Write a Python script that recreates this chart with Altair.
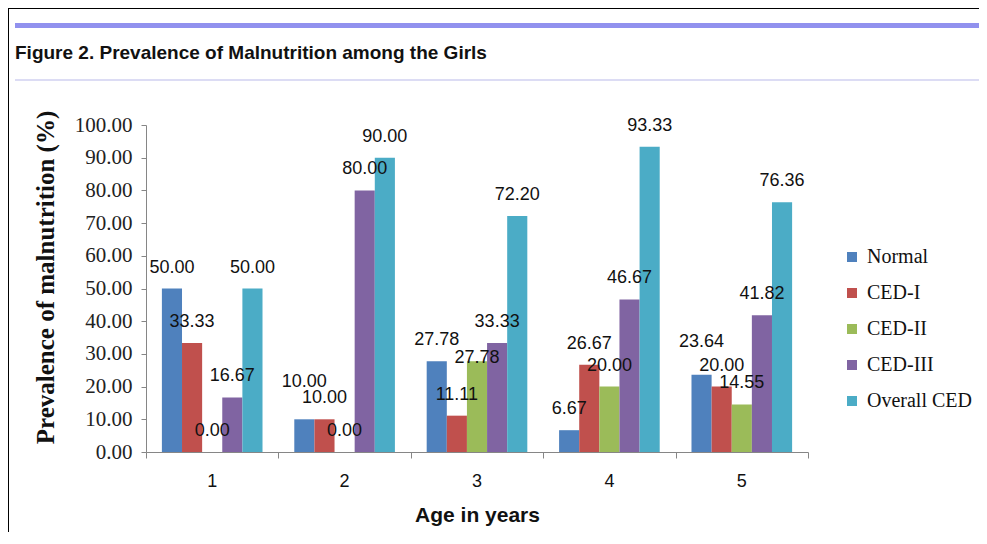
import altair as alt
import pandas as pd

# ---- data ----
ages = ["1", "2", "3", "4", "5"]
series = ["Normal", "CED-I", "CED-II", "CED-III", "Overall CED"]
normal = [50.00, 10.00, 27.78, 6.67, 23.64]
ced1 = [33.33, 10.00, 11.11, 26.67, 20.00]
ced2 = [0.00, 0.00, 27.78, 20.00, 14.55]
ced3 = [16.67, 80.00, 33.33, 46.67, 41.82]
overall = [50.00, 90.00, 72.20, 93.33, 76.36]
colors = ["#4F81BD", "#C0504D", "#9BBB59", "#8064A2", "#4BACC6"]
y_ticks = [0, 10, 20, 30, 40, 50, 60, 70, 80, 90, 100]
fig_title = "Figure 2. Prevalence of Malnutrition among the Girls"
y_title = "Prevalence of malnutrition (%)"
x_title = "Age in years"

# label nudges (in axis units) as in the reference, where a few labels were moved
label_nudge = {("2", "Normal"): 5.0, ("5", "Normal"): 3.7, ("3", "CED-II"): -5.5}

rows = []
for name, vals in zip(series, [normal, ced1, ced2, ced3, overall]):
    for a, v in zip(ages, vals):
        rows.append({"age": a, "group": name, "value": v, "label": f"{v:.2f}",
                     "label_y": v + label_nudge.get((a, name), 0.0)})
df = pd.DataFrame(rows)
bounds = pd.DataFrame({"b": list(range(len(ages) + 1))})
one = pd.DataFrame({"k": [0]})

W, H = 662, 327
SANS = "Liberation Sans"
SERIF = "Liberation Serif"
AXC = "#868686"

xscale = alt.Scale(domain=ages, paddingInner=0.24, paddingOuter=0.12)
offscale = alt.Scale(domain=series, paddingInner=0, paddingOuter=0)
yscale = alt.Scale(domain=[0, 100], nice=False)
y_axis = alt.Axis(values=y_ticks, format=".2f", grid=False, tickSize=5,
                  tickColor=AXC, domainColor=AXC, labelFont=SERIF,
                  labelFontSize=21, labelColor="#222", labelPadding=9,
                  title=y_title, titleFont=SERIF, titleFontSize=25,
                  titleFontWeight="bold", titleColor="#111",
                  titlePadding=16, titleY=152)

bars = alt.Chart(df).mark_bar().encode(
    x=alt.X("age:N", scale=xscale, sort=ages,
            axis=alt.Axis(title=x_title, ticks=False, labelAngle=0,
                          labelFont=SANS, labelFontSize=18, labelColor="#111",
                          labelPadding=20, domainColor=AXC, domainWidth=1,
                          titleFont=SANS, titleFontSize=21, titleFontWeight="bold",
                          titleColor="#111", titlePadding=14)),
    xOffset=alt.XOffset("group:N", scale=offscale, sort=series),
    y=alt.Y("value:Q", scale=yscale, axis=y_axis),
    color=alt.Color("group:N", scale=alt.Scale(domain=series, range=colors),
                    sort=series,
                    legend=alt.Legend(orient="none", legendX=696, legendY=122,
                                      title=None, symbolType="square",
                                      symbolSize=100, symbolStrokeWidth=0,
                                      labelFont=SERIF, labelFontSize=20,
                                      labelColor="#111", rowPadding=16,
                                      labelOffset=5)),
)

labels = alt.Chart(df).mark_text(
    font=SANS, fontSize=18, color="#111", baseline="middle", align="center", dy=-21
).encode(
    x=alt.X("age:N", scale=xscale, sort=ages, axis=None),
    xOffset=alt.XOffset("group:N", scale=offscale, sort=series),
    y=alt.Y("label_y:Q", scale=yscale, axis=y_axis),
    text="label:N",
)

bticks = alt.Chart(bounds).mark_point(opacity=0).encode(
    x=alt.X("b:Q", scale=alt.Scale(domain=[0, len(ages)], nice=False, zero=False),
            axis=alt.Axis(orient="bottom", values=list(range(len(ages) + 1)),
                          labels=False, domain=False, title=None, grid=False,
                          tickSize=6, tickColor=AXC)),
    y=alt.value(H),
)

border_top = alt.Chart(one).mark_rule(color="#000", strokeWidth=1).encode(
    x=alt.value(-138), x2=alt.value(840), y=alt.value(-116.5))
border_left = alt.Chart(one).mark_rule(color="#000", strokeWidth=1).encode(
    x=alt.value(-137.5), y=alt.value(-117), y2=alt.value(420))
purple = alt.Chart(one).mark_rule(color="#9191EE", strokeWidth=5).encode(
    x=alt.value(-131), x2=alt.value(840), y=alt.value(-99.5))
thin = alt.Chart(one).mark_rule(color="#DCDCF4", strokeWidth=2).encode(
    x=alt.value(-131), x2=alt.value(840), y=alt.value(-45))
title = alt.Chart(one).mark_text(
    font=SANS, fontSize=19, fontWeight="bold", color="#111", align="left",
    baseline="middle").encode(x=alt.value(-131), y=alt.value(-72),
                              text=alt.value(fig_title))

chart = alt.layer(
    border_top, border_left, purple, thin, title, bars, labels, bticks
).resolve_scale(x="independent").resolve_axis(x="independent").properties(
    width=W, height=H,
    autosize=alt.AutoSizeParams(type="none"),
    padding={"left": 138, "top": 117, "right": 171, "bottom": 80},
    background="white",
).configure_view(stroke=None)

chart.save("out.html", embed_options={"renderer": "svg", "actions": False})
